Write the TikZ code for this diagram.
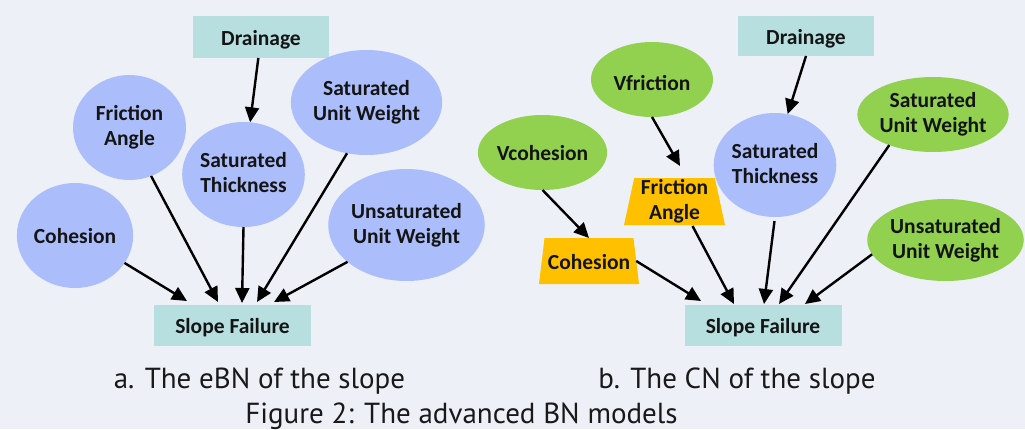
\documentclass[tikz,border=0pt]{standalone}
\usepackage{fontspec}
\setmainfont{Carlito}
\newfontfamily\capfont{PT Sans}
\usetikzlibrary{shapes.geometric,arrows.meta,calc}
\definecolor{bgc}{HTML}{EEF0F8}
\definecolor{tealc}{HTML}{B8DFE0}
\definecolor{bluec}{HTML}{ABBEFB}
\definecolor{greenc}{HTML}{92D050}
\definecolor{orangec}{HTML}{FFC000}
\newcommand{\lnstrut}{\rule[-4pt]{0pt}{24pt}}
\newcommand{\brk}{\\\lnstrut}
\begin{document}
\begin{tikzpicture}[x=1pt,y=-1pt,
  lab/.style={font=\bfseries\fontsize{21.5}{25}\selectfont, align=center, text=black!92, inner sep=0pt, outer sep=0pt, execute at begin node=\lnstrut},
  rectnode/.style={lab, rectangle, fill=tealc},
  bluenode/.style={lab, ellipse, fill=bluec},
  greennode/.style={lab, ellipse, fill=greenc},
  orangenode/.style={lab, trapezium, trapezium angle=77, trapezium stretches body, fill=orangec},
  arr/.style={-{Triangle[length=15pt,width=14pt]}, line width=2.4pt, black},
  captext/.style={font=\capfont\fontsize{29}{34}\selectfont, text=black!90, inner sep=0pt, anchor=base}
]
\fill[bgc] (0,0) rectangle (1025,429);
\useasboundingbox (0,0) rectangle (1025,429);

% ---------- left panel: eBN ----------
\node[rectnode, minimum width=136pt, minimum height=42pt] (dr1) at (261,37) {Drainage};
\node[rectnode, minimum width=157pt, minimum height=41pt] (sf1) at (232.5,325.5) {Slope Failure};
\node[bluenode, minimum width=113pt, minimum height=105pt] (fa1) at (129.5,127.5) {Friction\brk Angle};
\node[bluenode, minimum width=113pt, minimum height=105pt] (st1) at (243.5,174.5) {Saturated\brk Thickness};
\node[bluenode, minimum width=113pt, minimum height=105pt] (suw1) at (366.5,102.5) {Saturated\brk Unit Weight};
\node[bluenode, minimum width=114pt, minimum height=105pt, execute at begin node={\rule[-4pt]{0pt}{17pt}}] (co1) at (75,235.5) {Cohesion};
\node[bluenode, minimum width=125pt, minimum height=112pt] (uuw1) at (406.5,225) {Unsaturated\brk Unit Weight};

\draw[arr] (dr1) -- (st1);
\draw[arr] (co1.331) -- ($(sf1.north)+(-45.5,-4)$);
\draw[arr] (fa1.294) -- ($(sf1.north)+(-14.5,-3)$);
\draw[arr] (st1.south) -- ($(sf1.north)+(9.5,-2)$);
\draw[arr] (suw1.249) -- ($(sf1.north)+(24.5,-3)$);
\draw[arr] (uuw1.212) -- ($(sf1.north)+(41.5,-3)$);

% ---------- right panel: CN ----------
\node[rectnode, minimum width=136pt, minimum height=40pt] (dr2) at (806,36) {Drainage};
\node[rectnode, minimum width=157pt, minimum height=41pt] (sf2) at (763,325.5) {Slope Failure};
\node[greennode, minimum width=122pt, minimum height=75pt, execute at begin node={\rule[-4pt]{0pt}{30pt}}] (vf) at (652,79.5) {Vfriction};
\node[greennode, minimum width=121pt, minimum height=75pt] (vc) at (542.5,152.5) {Vcohesion};
\node[bluenode, minimum width=113pt, minimum height=104pt] (st2) at (775,165) {Saturated\brk Thickness};
\node[greennode, minimum width=122pt, minimum height=75pt] (suw2) at (933,114.5) {Saturated\brk Unit Weight};
\node[greennode, minimum width=133pt, minimum height=82pt] (uuw2) at (945.5,240) {Unsaturated\brk Unit Weight};
\node[orangenode, minimum width=101pt, minimum height=47pt] (fa2) at (674.5,201.5) {Friction\brk Angle};
\node[orangenode, minimum width=100pt, minimum height=46pt] (co2) at (589,261) {Cohesion};

\draw[arr] (dr2.south) -- (st2.76);
\draw[arr] (vf.south) -- ($(fa2.north)+(5.5,-12)$);
\draw[arr] (vc.south) -- (co2.north);
\draw[arr] (co2.east) -- ($(sf2.north)+(-62,-4)$);
\draw[arr] ($(fa2.south)+(18,1)$) -- ($(sf2.north)+(-29,-1)$);
\draw[arr, shorten <=4pt] (st2.south) -- ($(sf2.north)+(1,-1)$);
\draw[arr] (suw2.215) -- ($(sf2.north)+(16,-1)$);
\draw[arr] (uuw2.191) -- ($(sf2.north)+(42,-1)$);

% ---------- captions ----------
\node[captext] (capa) at (259.5,388) {a. The eBN of the slope};
\node[captext] (capb) at (737,388) {b. The CN of the slope};
\node[captext] (capfig) at (461.5,423) {Figure 2: The advanced BN models};
\end{tikzpicture}
\end{document}
